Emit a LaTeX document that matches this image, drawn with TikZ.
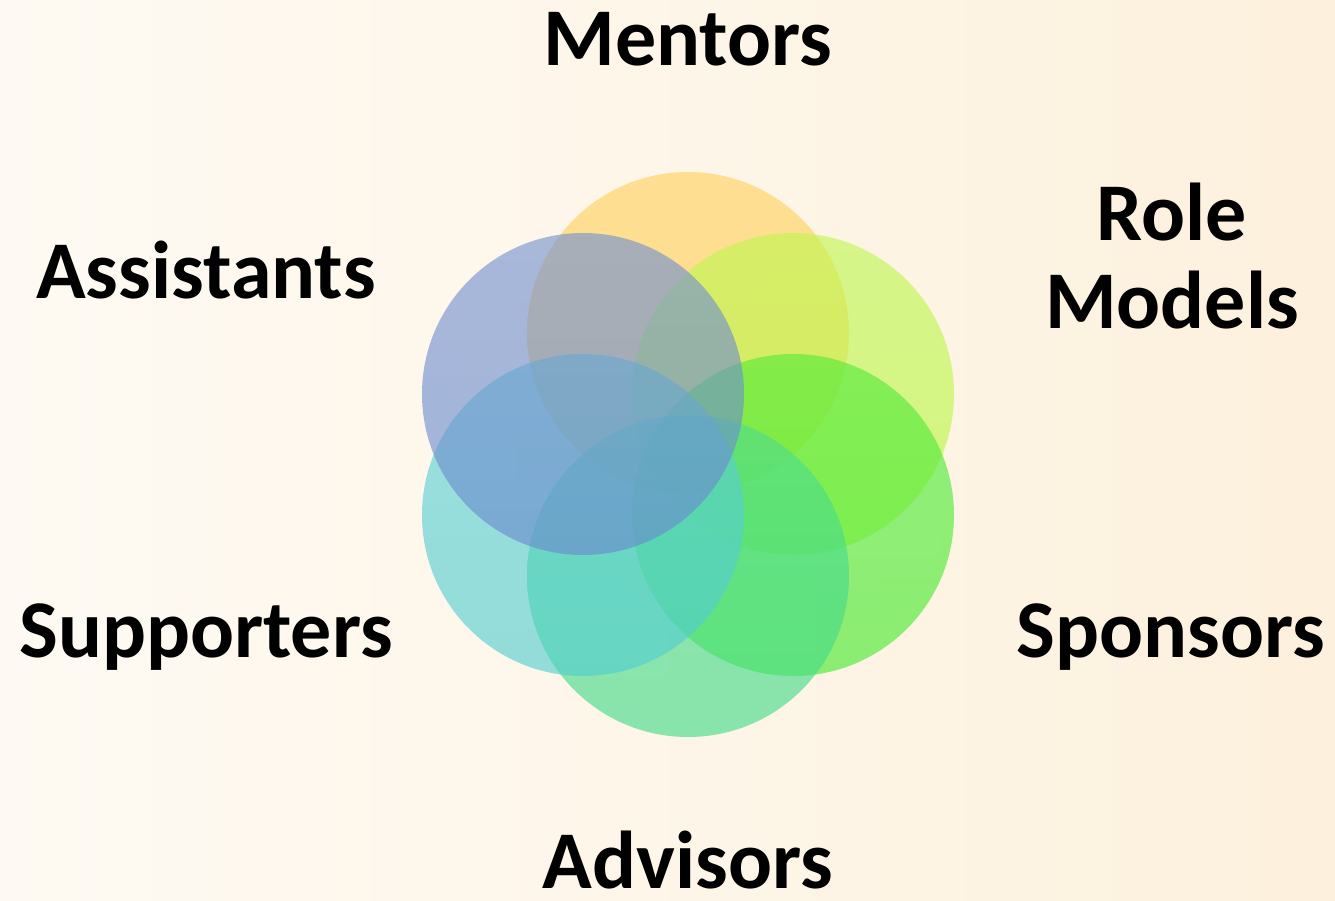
\documentclass[tikz,border=0pt]{standalone}
\usepackage{fontspec}
\setmainfont{Carlito}
\begin{document}
\begin{tikzpicture}[x=1pt,y=-1pt,
  petal/.style={circle, minimum size=322pt, inner sep=0pt, draw=none, fill opacity=0.62},
  role/.style={font=\bfseries\fontsize{82}{88}\selectfont, text=black, anchor=base, inner sep=0pt, align=center}]
  \definecolor{bgL}{RGB}{254,250,243}
  \definecolor{bgR}{RGB}{253,241,221}
  \definecolor{cMent}{RGB}{255,205,81}
  \definecolor{cRole}{RGB}{187,246,68}
  \definecolor{cSpon}{RGB}{69,234,43}
  \definecolor{cAdv}{RGB}{64,218,134}
  \definecolor{cSupp}{RGB}{81,205,209}
  \definecolor{cAsst}{RGB}{105,138,205}
  % background
  \shade[left color=bgL, right color=bgR] (0,0) rectangle (1335,900);
  \useasboundingbox (0,0) rectangle (1335,900);
  % six overlapping petals, drawn clockwise from the top
  \node[petal, top color=cMent!93!white, bottom color=cMent] (pMent) at (688,333) {};
  \node[petal, top color=cRole!93!white, bottom color=cRole] (pRole) at (793,394) {};
  \node[petal, top color=cSpon!93!white, bottom color=cSpon] (pSpon) at (793,515) {};
  \node[petal, top color=cAdv!93!white, bottom color=cAdv] (pAdv) at (688,576) {};
  \node[petal, top color=cSupp!93!white, bottom color=cSupp] (pSupp) at (583,515) {};
  \node[petal, top color=cAsst!93!white, bottom color=cAsst] (pAsst) at (583,394) {};
  % labels
  \node[role] (tMent) at (688,65) {Mentors};
  \node[role] (tRole) at (1172,328) {Role\\Models};
  \node[role] (tSpon) at (1171,657) {Sponsors};
  \node[role] (tAdv) at (688,888) {Advisors};
  \node[role] (tSupp) at (206,657) {Supporters};
  \node[role] (tAsst) at (206,298) {Assistants};
\end{tikzpicture}
\end{document}
